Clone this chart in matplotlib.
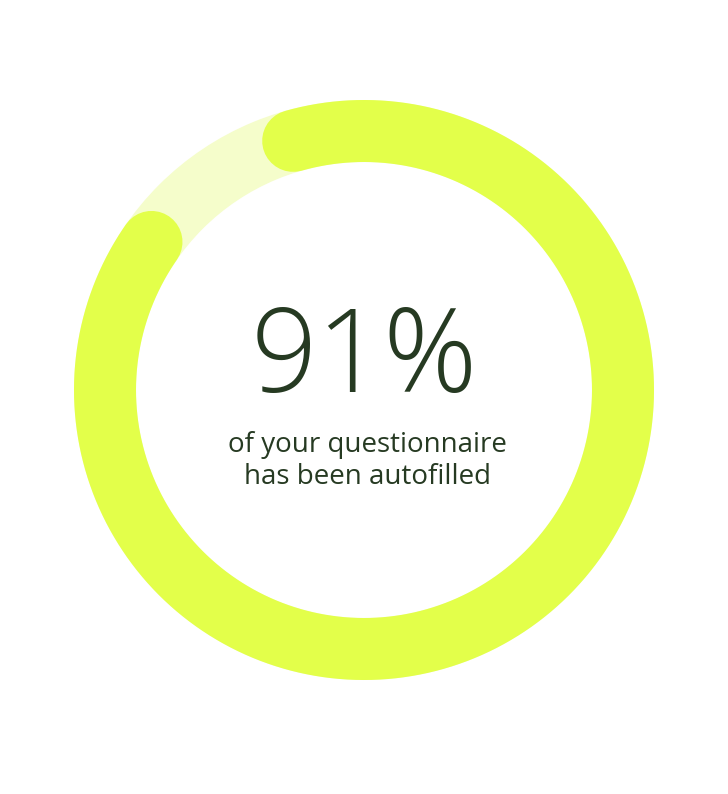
import numpy as np
import matplotlib
matplotlib.use("Agg")
import matplotlib.pyplot as plt
from matplotlib.patches import Wedge

# ---- data ----
value = 91          # percent completed
total = 100
label_main = f"{value}%"
label_sub = ["of your questionnaire", "has been autofilled"]

# ---- style ----
W, H, DPI = 728, 794, 100
cx, cy = 364, 390
r_out, r_in = 290, 228
r_mid = (r_out + r_in) / 2
ring_w = r_out - r_in
track_col = "#F5FDCB"
arc_col = "#E3FF4A"
text_col = "#263A22"
gap_center_deg = 125.5   # middle of the unfilled gap (math angle)

fig = plt.figure(figsize=(W / DPI, H / DPI), dpi=DPI)
ax = fig.add_axes([0, 0, 1, 1])
ax.set_xlim(0, W)
ax.set_ylim(H, 0)
ax.set_aspect("equal")
ax.axis("off")

ax.add_patch(Wedge((cx, cy), r_out, 0, 360, width=ring_w,
                   facecolor=track_col, edgecolor="none"))

# progress arc
span = 360 * value / total
cap_deg = np.degrees((ring_w / 2) / r_mid)
centers_span = span - cap_deg
c_start = gap_center_deg - (360 - centers_span) / 2
c_end = c_start - centers_span
theta = np.radians(np.linspace(c_start, c_end, 600))
xs = cx + r_mid * np.cos(theta)
ys = cy - r_mid * np.sin(theta)
lw_pt = ring_w * 72 / DPI
ax.plot(xs, ys, color=arc_col, lw=lw_pt, solid_capstyle="round")

ax.text(cx, 392, label_main, ha="center", va="baseline",
        fontsize=84, family="Open Sans", weight="light", color=text_col)
ax.text(cx + 3, 452, label_sub[0], ha="center", va="baseline",
        fontsize=20, family="Open Sans", color=text_col)
ax.text(cx + 4, 484, label_sub[1], ha="center", va="baseline",
        fontsize=20, family="Open Sans", color=text_col)

fig.savefig("out.png", dpi=DPI, facecolor="white")
